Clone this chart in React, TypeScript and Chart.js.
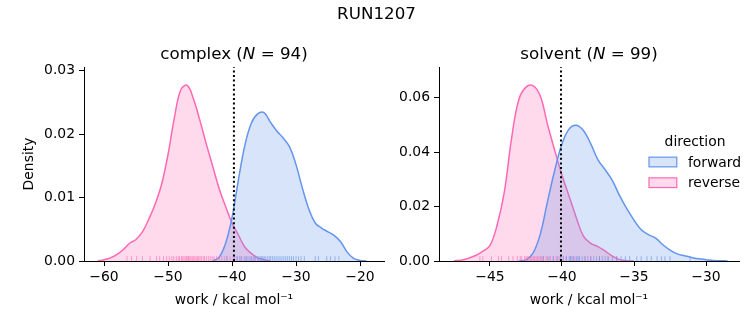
import React, { useEffect, useRef } from "react";
import { Chart, registerables } from "chart.js";

Chart.register(...registerables);

// ---------- data ----------
const suptitle = "RUN1207";
const seriesNames = ["forward", "reverse"];
const legendTitle = "direction";
const xAxisLabel = "work / kcal mol\u207B\u00B9";
const yAxisLabel = "Density";

// complex panel
const complexTitle = ["complex (", "N", " = 94)"];
const complexXTicks = [-60, -50, -40, -30, -20];
const complexYTicks = [0, 0.01, 0.02, 0.03];
const complexXRange = [-63.125, -16.25];
const complexYMax = 0.0306;
const complexMeanLine = -39.7;

const complexReverseX = [-61, -60, -59, -58, -57, -56, -55, -54, -53, -52, -51, -50, -49, -48, -47, -46, -45, -44, -43, -42, -41, -40, -39, -38, -37, -36, -35, -34];
const complexReverseY = [0.0, 0.0002, 0.0005, 0.001, 0.0018, 0.0028, 0.0034, 0.0046, 0.0066, 0.009, 0.0121, 0.0168, 0.0226, 0.027, 0.0277, 0.0255, 0.0221, 0.0184, 0.0149, 0.0114, 0.0086, 0.006, 0.0041, 0.0022, 0.0012, 0.0005, 0.0002, 0.0];

const complexForwardX = [-43, -42, -41, -40, -39, -38, -37, -36, -35, -34, -33, -32, -31, -30, -29, -28, -27, -26, -25, -24, -23, -22, -21, -20, -19];
const complexForwardY = [0.0, 0.0006, 0.0028, 0.0068, 0.0128, 0.0182, 0.0217, 0.0232, 0.0234, 0.0219, 0.0205, 0.0194, 0.018, 0.0152, 0.0115, 0.0082, 0.006, 0.0052, 0.0046, 0.004, 0.003, 0.0014, 0.0004, 0.0001, 0.0];

const complexReverseRug = [-56.4, -55.7, -54.9, -54.0, -52.8, -51.8, -51.3, -50.7, -50.2, -49.8, -49.4, -49.1, -48.7, -48.4, -48.2, -47.9, -47.7, -47.5, -47.3, -47.1, -46.9, -46.8, -46.6, -46.4, -46.2, -46.0, -45.8, -45.6, -45.4, -45.2, -45.0, -44.8, -44.5, -44.3, -44.0, -43.7, -43.4, -43.1, -42.8, -42.4, -42.0, -41.6, -41.2, -40.8, -40.3, -39.8, -39.2, -38.6, -37.8, -37.0, -36.5];
const complexForwardRug = [-40.8, -39.6, -39.2, -38.8, -38.5, -38.1, -37.8, -37.5, -37.2, -36.9, -36.6, -36.3, -36.0, -35.8, -35.6, -35.4, -35.2, -35.0, -34.8, -34.5, -34.2, -34.0, -33.7, -33.4, -33.1, -32.8, -32.5, -32.2, -31.9, -31.6, -31.3, -31.0, -30.7, -30.4, -30.0, -29.6, -29.2, -28.7, -27.0, -26.5, -25.2, -24.6, -23.9, -23.3];

// solvent panel
const solventTitle = ["solvent (", "N", " = 99)"];
const solventXTicks = [-45, -40, -35, -30];
const solventYTicks = [0, 0.02, 0.04, 0.06];
const solventXRange = [-48.54, -27.71];
const solventYMax = 0.0712;
const solventMeanLine = -40.07;

const solventReverseX = [-47.5, -47, -46.5, -46, -45.5, -45, -44.5, -44, -43.5, -43, -42.5, -42, -41.5, -41, -40.5, -40, -39.5, -39, -38.5, -38, -37.5, -37, -36.5, -36, -35.5, -35];
const solventReverseY = [0.0001, 0.0003, 0.001, 0.002, 0.0035, 0.0057, 0.0133, 0.0255, 0.045, 0.0592, 0.0638, 0.0643, 0.0605, 0.05, 0.0405, 0.0315, 0.0237, 0.0158, 0.009, 0.0065, 0.0053, 0.0036, 0.0018, 0.0005, 0.0001, 0.0];

const solventForwardX = [-43, -42.5, -42, -41.5, -41, -40.5, -40, -39.5, -39, -38.5, -38, -37.5, -37, -36.5, -36, -35.5, -35, -34.5, -34, -33.5, -33, -32.5, -32, -31.5, -31, -30.5, -30, -29.5, -29, -28.5];
const solventForwardY = [0.0, 0.0004, 0.003, 0.01, 0.022, 0.0334, 0.043, 0.0485, 0.0498, 0.0478, 0.043, 0.0371, 0.0335, 0.0295, 0.024, 0.0192, 0.015, 0.0115, 0.0097, 0.0084, 0.006, 0.004, 0.0026, 0.0019, 0.0013, 0.0008, 0.0005, 0.0002, 0.0001, 0.0];

const solventReverseRug = [-45.7, -45.5, -44.9, -44.4, -44.2, -43.7, -43.4, -43.1, -42.9, -42.8, -42.6, -42.5, -42.4, -42.3, -42.2, -42.1, -42.0, -41.9, -41.8, -41.7, -41.6, -41.5, -41.4, -41.3, -41.1, -41.0, -40.8, -40.6, -40.4, -40.2, -40.0, -39.7, -39.4, -39.1, -38.8, -38.4, -38.0, -37.4, -36.8, -36.2];
const solventForwardRug = [-41.3, -40.9, -40.6, -40.3, -40.1, -39.9, -39.7, -39.5, -39.4, -39.3, -39.2, -39.0, -38.9, -38.8, -38.6, -38.4, -38.2, -38.0, -37.8, -37.6, -37.4, -37.2, -37.0, -36.8, -36.5, -36.2, -35.9, -35.6, -35.3, -34.8, -34.5, -34.1, -33.8, -33.4, -33.1, -32.85, -32.5, -31.1];

// ---------- styles ----------
const W = 753;
const H = 325;
const FONT = "'DejaVu Sans', sans-serif";
const FS = 13.9;
const FS_TITLE = 16.7;
const BLUE = "rgb(100,149,237)";
const BLUE_FILL = "rgba(100,149,237,0.25)";
const BLUE_RUG = "rgba(100,149,237,0.6)";
const PINK = "rgb(255,105,180)";
const PINK_FILL = "rgba(255,105,180,0.25)";
const PINK_RUG = "rgba(255,105,180,0.6)";

type Panel = {
  title: string[];
  xTicks: number[];
  yTicks: number[];
  xRange: number[];
  yMax: number;
  meanLine: number;
  fX: number[];
  fY: number[];
  rX: number[];
  rY: number[];
  fRug: number[];
  rRug: number[];
  padLeft: number;
  padRight: number;
  yWidth: number;
  showYTitle: boolean;
  showLegend: boolean;
  showSuptitle: boolean;
};

const toPts = (xs: number[], ys: number[]) => xs.map((x, i) => ({ x, y: ys[i] }));
const fmtX = (v: number) => String(v).replace("-", "\u2212");

function makeDecor(p: Panel) {
  return {
    id: "decor",
    afterDatasetDraw(chart: any, args: any) {
      if (args.index !== 0) return;
      const { ctx, chartArea, scales } = chart;
      const h = (chartArea.bottom - chartArea.top) * 0.025;
      ctx.save();
      ctx.lineWidth = 1;
      const groups: [number[], string][] = [
        [p.rRug, PINK_RUG],
        [p.fRug, BLUE_RUG],
      ];
      groups.forEach(([arr, col]) => {
        ctx.strokeStyle = col;
        arr.forEach((v) => {
          const x = scales.x.getPixelForValue(v);
          ctx.beginPath();
          ctx.moveTo(x, chartArea.bottom);
          ctx.lineTo(x, chartArea.bottom - h);
          ctx.stroke();
        });
      });
      ctx.restore();
    },
    afterDraw(chart: any) {
      const { ctx, chartArea } = chart;
      ctx.save();
      ctx.fillStyle = "#000";
      ctx.textBaseline = "alphabetic";
      const fonts = [`${FS_TITLE}px ${FONT}`, `italic ${FS_TITLE}px ${FONT}`, `${FS_TITLE}px ${FONT}`];
      const widths = p.title.map((t, i) => {
        ctx.font = fonts[i];
        return ctx.measureText(t).width;
      });
      const total = widths.reduce((a, b) => a + b, 0);
      let x = (chartArea.left + chartArea.right) / 2 - total / 2;
      ctx.textAlign = "left";
      p.title.forEach((t, i) => {
        ctx.font = fonts[i];
        ctx.fillText(t, x, chartArea.top - 8.3);
        x += widths[i];
      });
      if (p.showSuptitle) {
        ctx.font = `${FS_TITLE}px ${FONT}`;
        ctx.textAlign = "center";
        ctx.fillText(suptitle, W / 2, 19);
      }
      if (p.showLegend) {
        const right = chartArea.right;
        const boxL = right - 90;
        const boxW = 27.8;
        const boxH = 9.7;
        ctx.font = `${FS}px ${FONT}`;
        ctx.textAlign = "center";
        ctx.fillText(legendTitle, right - 44, 146);
        const rows = [
          { name: seriesNames[0], fill: BLUE_FILL, stroke: BLUE, cy: 162 },
          { name: seriesNames[1], fill: PINK_FILL, stroke: PINK, cy: 182.7 },
        ];
        rows.forEach((r) => {
          ctx.fillStyle = r.fill;
          ctx.fillRect(boxL, r.cy - boxH / 2, boxW, boxH);
          ctx.strokeStyle = r.stroke;
          ctx.lineWidth = 1.2;
          ctx.strokeRect(boxL, r.cy - boxH / 2, boxW, boxH);
          ctx.fillStyle = "#000";
          ctx.textAlign = "left";
          ctx.fillText(r.name, boxL + boxW + 11.1, r.cy + 4.6);
        });
      }
      ctx.restore();
    },
  };
}

function buildChart(canvas: HTMLCanvasElement, p: Panel) {
  const font = { family: FONT, size: FS };
  const grid = { display: true, drawOnChartArea: false, drawTicks: true, tickLength: 5, color: "#000", lineWidth: 1 };
  const border = { display: true, color: "#000", width: 1 };
  return new Chart(canvas, {
    type: "line",
    data: {
      datasets: [
        {
          label: seriesNames[0],
          data: toPts(p.fX, p.fY),
          borderColor: BLUE,
          backgroundColor: BLUE_FILL,
          fill: "origin",
          borderWidth: 1.5,
          pointRadius: 0,
          tension: 0.4,
          order: 2,
        },
        {
          label: seriesNames[1],
          data: toPts(p.rX, p.rY),
          borderColor: PINK,
          backgroundColor: PINK_FILL,
          fill: "origin",
          borderWidth: 1.5,
          pointRadius: 0,
          tension: 0.4,
          order: 3,
        },
        {
          label: "mean",
          data: [
            { x: p.meanLine, y: 0 },
            { x: p.meanLine, y: p.yMax },
          ],
          borderColor: "#000",
          borderWidth: 2,
          borderDash: [2, 2.6],
          pointRadius: 0,
          fill: false,
          tension: 0,
          order: 0,
        },
      ],
    },
    options: {
      responsive: false,
      animation: false,
      devicePixelRatio: 1,
      layout: { padding: { left: p.padLeft, right: p.padRight, top: 67, bottom: 0 } },
      plugins: { legend: { display: false }, tooltip: { enabled: false }, title: { display: false } },
      scales: {
        x: {
          type: "linear",
          min: p.xRange[0],
          max: p.xRange[1],
          afterBuildTicks: (s: any) => {
            s.ticks = p.xTicks.map((v) => ({ value: v }));
          },
          afterFit: (s: any) => {
            s.height = 64;
          },
          ticks: { callback: (v: any) => fmtX(v), font, color: "#000", padding: 3, maxRotation: 0, autoSkip: false },
          grid,
          border,
          title: { display: true, text: xAxisLabel, font, color: "#000", padding: { top: 0, bottom: 16 } },
        },
        y: {
          type: "linear",
          min: 0,
          max: p.yMax,
          afterBuildTicks: (s: any) => {
            s.ticks = p.yTicks.map((v) => ({ value: v }));
          },
          afterFit: (s: any) => {
            s.width = p.yWidth;
          },
          ticks: { callback: (v: any) => Number(v).toFixed(2), font, color: "#000", padding: 4, autoSkip: false },
          grid,
          border,
          title: { display: p.showYTitle, text: yAxisLabel, font, color: "#000", padding: { top: 21.4, bottom: 0 } },
        },
      },
    } as any,
    plugins: [makeDecor(p) as any],
  });
}

const panels: Panel[] = [
  {
    title: complexTitle,
    xTicks: complexXTicks,
    yTicks: complexYTicks,
    xRange: complexXRange,
    yMax: complexYMax,
    meanLine: complexMeanLine,
    fX: complexForwardX,
    fY: complexForwardY,
    rX: complexReverseX,
    rY: complexReverseY,
    fRug: complexForwardRug,
    rRug: complexReverseRug,
    padLeft: 0,
    padRight: W - 384,
    yWidth: 84,
    showYTitle: true,
    showLegend: false,
    showSuptitle: true,
  },
  {
    title: solventTitle,
    xTicks: solventXTicks,
    yTicks: solventYTicks,
    xRange: solventXRange,
    yMax: solventYMax,
    meanLine: solventMeanLine,
    fX: solventForwardX,
    fY: solventForwardY,
    rX: solventReverseX,
    rY: solventReverseY,
    fRug: solventForwardRug,
    rRug: solventReverseRug,
    padLeft: 379,
    padRight: W - 739,
    yWidth: 60,
    showYTitle: false,
    showLegend: true,
    showSuptitle: false,
  },
];

export default function App() {
  const ref0 = useRef<HTMLCanvasElement>(null);
  const ref1 = useRef<HTMLCanvasElement>(null);
  useEffect(() => {
    const charts = [ref0.current, ref1.current].map((c, i) => buildChart(c as HTMLCanvasElement, panels[i]));
    return () => charts.forEach((c) => c.destroy());
  }, []);
  const style: React.CSSProperties = { position: "absolute", left: 0, top: 0, width: W, height: H };
  return (
    <div style={{ position: "absolute", left: 0, top: 0, width: W, height: H, background: "#fff" }}>
      <canvas ref={ref0} width={W} height={H} style={style} />
      <canvas ref={ref1} width={W} height={H} style={{ ...style, pointerEvents: "none" }} />
    </div>
  );
}
